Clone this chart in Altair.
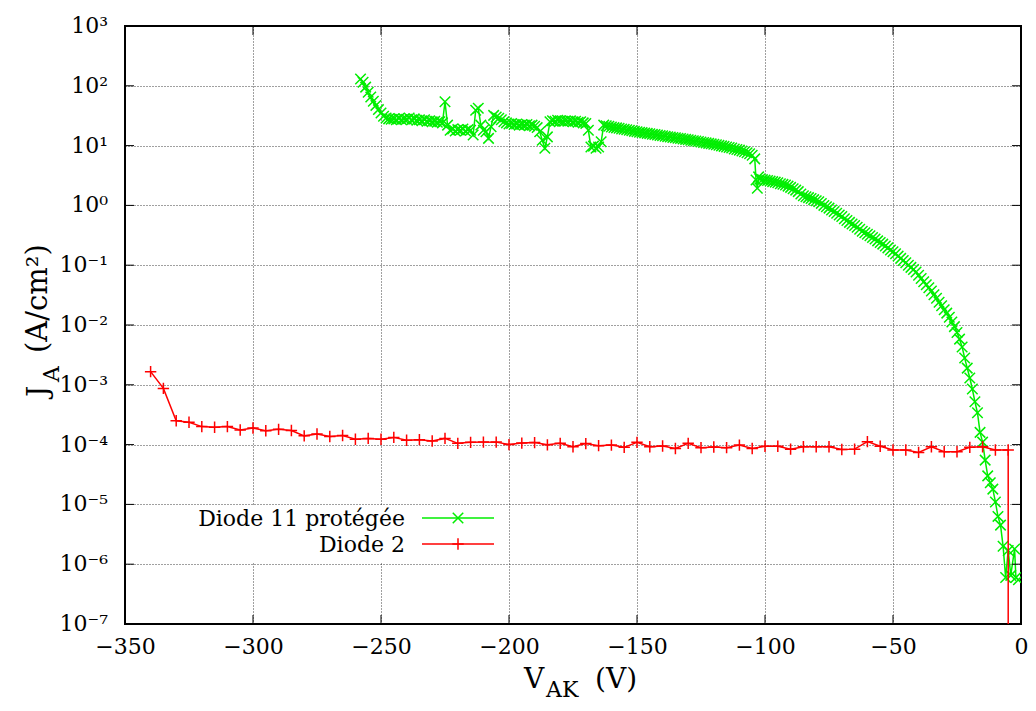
import altair as alt
import pandas as pd

FONT = "DejaVu Serif"
GREEN = "#00ee00"
RED = "#ff0000"

# ---- Diode 11 protégée (green, x markers) ----
d11_v = [-258, -257, -256, -255, -254, -253, -252, -251, -250, -249, -248, -247, -246, -245,
         -244, -243, -242, -241, -240, -239, -238, -237, -236, -235, -234, -233, -232, -231,
         -230, -229, -228, -227, -226, -225, -224, -223, -222, -221, -220, -219, -218, -217,
         -216, -215, -214, -213, -212, -211, -210, -209, -208, -207, -206, -205, -204, -203,
         -202, -201, -200, -199, -198, -197, -196, -195, -194, -193, -192, -191, -190, -189,
         -188, -187, -186, -185, -184, -183, -182, -181, -180, -179, -178, -177, -176, -175,
         -174, -173, -172, -171, -170, -169, -168, -167, -166, -165, -164, -163, -162, -161,
         -160, -159, -158, -157, -156, -155, -154, -153, -152, -151, -150, -149, -148, -147,
         -146, -145, -144, -143, -142, -141, -140, -139, -138, -137, -136, -135, -134, -133,
         -132, -131, -130, -129, -128, -127, -126, -125, -124, -123, -122, -121, -120, -119,
         -118, -117, -116, -115, -114, -113, -112, -111, -110, -109, -108, -107, -106, -105,
         -104, -103.5, -103, -102.5, -102, -101, -100, -99, -98, -97, -96, -95, -94, -93,
         -92, -91, -90, -89, -88, -87, -86, -85, -84, -83, -82, -81, -80, -79,
         -78, -77, -76, -75, -74, -73, -72, -71, -70, -69, -68, -67, -66, -65,
         -64, -63, -62, -61, -60, -59, -58, -57, -56, -55, -54, -53, -52, -51,
         -50, -49, -48, -47, -46, -45, -44, -43, -42, -41, -40, -39, -38, -37,
         -36, -35, -34, -33, -32, -31, -30, -29, -28, -27, -26, -25, -24, -23,
         -22, -21, -20, -19, -18, -17, -16, -15, -14, -13, -12, -11, -10, -9,
         -8, -7, -6, -5, -4, -2.5, -2, -1]
d11_j = [130, 115, 95, 78, 65, 55, 47, 40, 35, 31, 29, 28, 27.5, 28,
         27, 28.5, 27, 28, 27.5, 29, 27, 28, 26.5, 27, 26, 27, 25.5, 26,
         25, 25.5, 24.5, 25, 24, 54, 22, 18, 19, 17.5, 18.5, 18, 19, 17.5,
         18.5, 18, 15, 39, 42, 22, 18, 17, 13.2, 20.7, 32, 30, 28.6, 27,
         25, 24, 23, 23.5, 22.5, 23, 22, 22.5, 22, 22.5, 21.5, 22, 21, 20,
         17, 12.3, 9, 14, 25, 26, 25.5, 26.5, 26, 25.5, 26, 25.5, 26, 25,
         25.5, 24.5, 25, 24, 23.5, 18, 9.5, 9.8, 9, 9.5, 11.6, 22, 21.5, 21,
         20.5, 20, 19.8, 19.5, 19, 18.7, 18.4, 18, 17.7, 17.3, 17, 16.7, 16.5, 16.3,
         16.0, 15.8, 15.5, 15.3, 15.0, 14.8, 14.6, 14.3, 14.1, 13.9, 13.7, 13.5, 13.3, 13.1,
         12.9, 12.7, 12.5, 12.3, 12.1, 11.9, 11.7, 11.5, 11.3, 11.1, 10.9, 10.7, 10.5, 10.3,
         10.1, 9.9, 9.7, 9.5, 9.3, 9.1, 8.8, 8.6, 8.4, 8.1, 7.9, 7.6, 7.3, 6.9,
         6.0, 2.66, 1.93, 3.0, 2.75, 2.7, 2.65, 2.6, 2.55, 2.5, 2.45, 2.4, 2.3, 2.25,
         2.2, 2.1, 2.0, 1.9, 1.8, 1.7, 1.55, 1.45, 1.4, 1.35, 1.3, 1.25, 1.2, 1.15,
         1.08, 1.0, 0.95, 0.9, 0.84, 0.79, 0.74, 0.69, 0.65, 0.6, 0.56, 0.52, 0.49, 0.46,
         0.43, 0.4, 0.37, 0.35, 0.33, 0.31, 0.29, 0.275, 0.255, 0.24, 0.225, 0.21, 0.195, 0.18,
         0.168, 0.155, 0.142, 0.13, 0.12, 0.11, 0.1, 0.092, 0.085, 0.077, 0.068, 0.06, 0.053, 0.047,
         0.042, 0.037, 0.032, 0.028, 0.024, 0.021, 0.018, 0.0158, 0.0135, 0.0112, 0.0094, 0.0075, 0.0058, 0.0043,
         0.0028, 0.0019, 0.0013, 8.5e-4, 5.2e-4, 3.4e-4, 1.6e-4, 1.1e-4, 5.5e-5, 3.0e-5, 2.3e-5, 1.8e-5, 1.1e-5, 6.3e-6,
         4.5e-6, 2.0e-6, 6.0e-7, 1.7e-6, 6.5e-7, 1.8e-6, 6.0e-7, 5.5e-7]

# ---- Diode 2 (red, + markers) ----
d2_v = [-340, -335, -330, -325, -320, -315, -310, -305, -300, -295, -290, -285, -280, -275,
        -270, -265, -260, -255, -250, -245, -240, -235, -230, -225, -220, -215, -210, -205,
        -200, -195, -190, -185, -180, -175, -170, -165, -160, -155, -150, -145, -140, -135,
        -130, -125, -120, -115, -110, -105, -100, -95, -90, -85, -80, -75, -70, -65,
        -60, -55, -50, -45, -40, -35, -30, -25, -20, -15, -10, -5]
d2_j = [1.66e-3, 8.7e-4, 2.5e-4, 2.36e-4, 2.0e-4, 1.95e-4, 2.0e-4, 1.75e-4, 1.9e-4, 1.7e-4, 1.8e-4, 1.72e-4, 1.4e-4, 1.5e-4,
        1.37e-4, 1.42e-4, 1.23e-4, 1.27e-4, 1.23e-4, 1.32e-4, 1.18e-4, 1.21e-4, 1.15e-4, 1.27e-4, 1.05e-4, 1.09e-4, 1.1e-4, 1.1e-4,
        1.0e-4, 1.06e-4, 1.08e-4, 0.99e-4, 1.05e-4, 9.2e-5, 1.04e-4, 9.6e-5, 9.8e-5, 9.0e-5, 1.09e-4, 9.2e-5, 9.5e-5, 8.6e-5,
        1.05e-4, 8.9e-5, 9.1e-5, 8.9e-5, 9.8e-5, 8.6e-5, 9.4e-5, 9.4e-5, 8.4e-5, 9.2e-5, 9.2e-5, 9.2e-5, 8.3e-5, 8.4e-5,
        1.12e-4, 9.4e-5, 8.1e-5, 8.1e-5, 7.4e-5, 9.2e-5, 7.6e-5, 7.6e-5, 9.0e-5, 9.2e-5, 8.1e-5, 8.1e-5]
# final measurement of Diode 2 falls below the plotted range
d2_end_v = -5
d2_end_j = 1e-10

x_ticks = [-350, -300, -250, -200, -150, -100, -50, 0]
y_ticks = [1e-7, 1e-6, 1e-5, 1e-4, 1e-3, 1e-2, 1e-1, 1e0, 1e1, 1e2, 1e3]
y_tick_labels = ["10⁻⁷", "10⁻⁶", "10⁻⁵", "10⁻⁴", "10⁻³", "10⁻²", "10⁻¹", "10⁰", "10¹", "10²", "10³"]

legend_labels = ["Diode 11 protégée", "Diode 2"]

W, H = 896, 598

df11 = pd.DataFrame({"V": d11_v, "J": d11_j})
df11["i"] = range(len(df11))
df2 = pd.DataFrame({"V": d2_v, "J": d2_j})
df2_line = pd.concat([df2, pd.DataFrame({"V": [d2_end_v], "J": [d2_end_j]})], ignore_index=True)
df2_line["i"] = range(len(df2_line))
dfxt = pd.DataFrame({"V": x_ticks})
dfyt = pd.DataFrame({"J": y_ticks, "lab": y_tick_labels})
one = alt.Data(values=[{"a": 1}])

xscale = alt.Scale(domain=[-350, 0], nice=False, zero=False)
yscale = alt.Scale(type="log", domain=[1e-7, 1e3], nice=False)
GRID = dict(grid=True, gridColor="#000000", gridDash=[1, 2], gridWidth=1, gridOpacity=0.75,
            ticks=False, domain=False, title=None)
xaxis = alt.Axis(values=x_ticks, labelFont=FONT, labelFontSize=22, labelColor="black",
                 labelPadding=12, labelFlush=False, labelOverlap=False, **GRID)
yaxis = alt.Axis(values=y_ticks, labels=False, **GRID)


def X(field="V"):
    return alt.X(f"{field}:Q", scale=xscale, axis=xaxis)


def Y(field="J"):
    return alt.Y(f"{field}:Q", scale=yscale, axis=yaxis)


XPATH = "M-1,-1L1,1M-1,1L1,-1"
PPATH = "M-1,0L1,0M0,-1L0,1"

# legend background (hides grid behind key)
legend_bg = alt.Chart(one).mark_rect(color="white").encode(
    x=alt.value(50), x2=alt.value(382), y=alt.value(480), y2=alt.value(537))

g_line = alt.Chart(df11).mark_line(color=GREEN, strokeWidth=1.5, clip=True).encode(
    x=X(), y=Y(), order="i:Q")
g_pts = alt.Chart(df11).mark_point(shape=XPATH, size=110, filled=False, color=GREEN,
                                   strokeWidth=1.5, opacity=1, clip=True).encode(x=X(), y=Y())
r_line = alt.Chart(df2_line).mark_line(color=RED, strokeWidth=1.5, clip=True).encode(
    x=X(), y=Y(), order="i:Q")
r_pts = alt.Chart(df2).mark_point(shape=PPATH, size=130, filled=False, color=RED,
                                  strokeWidth=1.5, opacity=1, clip=True).encode(x=X(), y=Y())

# inward ticks on all four sides
tk = dict(color="black", strokeWidth=1)
t_left = alt.Chart(dfyt).mark_rule(**tk).encode(y=Y(), x=alt.value(0), x2=alt.value(9))
t_right = alt.Chart(dfyt).mark_rule(**tk).encode(y=Y(), x=alt.value(W - 9), x2=alt.value(W))
t_bot = alt.Chart(dfxt).mark_rule(**tk).encode(x=X(), y=alt.value(H - 9), y2=alt.value(H))
t_top = alt.Chart(dfxt).mark_rule(**tk).encode(x=X(), y=alt.value(0), y2=alt.value(9))

y_labels = alt.Chart(dfyt).mark_text(font=FONT, fontSize=22, align="right", baseline="middle",
                                     color="black").encode(y=Y(), x=alt.value(-17), text="lab:N")

# legend
lg_txt1 = alt.Chart(one).mark_text(text=legend_labels[0], font=FONT, fontSize=22, align="right",
                                   baseline="alphabetic", color="black").encode(
    x=alt.value(280), y=alt.value(500))
lg_txt2 = alt.Chart(one).mark_text(text=legend_labels[1], font=FONT, fontSize=22, align="right",
                                   baseline="alphabetic", color="black").encode(
    x=alt.value(280), y=alt.value(526))
lg_l1 = alt.Chart(one).mark_rule(color=GREEN, strokeWidth=1.5).encode(
    x=alt.value(297), x2=alt.value(369), y=alt.value(492))
lg_l2 = alt.Chart(one).mark_rule(color=RED, strokeWidth=1.5).encode(
    x=alt.value(297), x2=alt.value(369), y=alt.value(518))
lg_p1 = alt.Chart(one).mark_point(shape=XPATH, size=110, filled=False, color=GREEN, strokeWidth=1.5,
                                  opacity=1).encode(x=alt.value(333), y=alt.value(492))
lg_p2 = alt.Chart(one).mark_point(shape=PPATH, size=130, filled=False, color=RED, strokeWidth=1.5,
                                  opacity=1).encode(x=alt.value(333), y=alt.value(518))

# axis titles with subscripts
ttl = dict(font=FONT, color="black", baseline="alphabetic", align="left")
xt1 = alt.Chart(one).mark_text(text="V", fontSize=28, **ttl).encode(x=alt.value(399), y=alt.value(662))
xt2 = alt.Chart(one).mark_text(text="AK", fontSize=22, **ttl).encode(x=alt.value(421), y=alt.value(671))
xt3 = alt.Chart(one).mark_text(text="(V)", fontSize=28, **ttl).encode(x=alt.value(470), y=alt.value(662))
yt1 = alt.Chart(one).mark_text(text="J", fontSize=28, angle=270, **ttl).encode(x=alt.value(-78), y=alt.value(371))
yt2 = alt.Chart(one).mark_text(text="A", fontSize=22, angle=270, **ttl).encode(x=alt.value(-66), y=alt.value(356))
yt3 = alt.Chart(one).mark_text(text="(A/cm²)", fontSize=29, angle=270, **ttl).encode(x=alt.value(-78), y=alt.value(327))

chart = alt.layer(
    legend_bg, g_line, g_pts, r_line, r_pts,
    t_left, t_right, t_bot, t_top, y_labels,
    lg_txt1, lg_txt2, lg_l1, lg_l2, lg_p1, lg_p2,
    xt1, xt2, xt3, yt1, yt2, yt3,
).properties(
    width=W, height=H,
    padding={"left": 117, "top": 18, "right": 7, "bottom": 77},
    autosize=alt.AutoSizeParams(type="none"),
    background="white",
).configure_view(stroke="black", strokeWidth=2)

chart.save("out.html", embed_options={"renderer": "svg", "actions": False})
